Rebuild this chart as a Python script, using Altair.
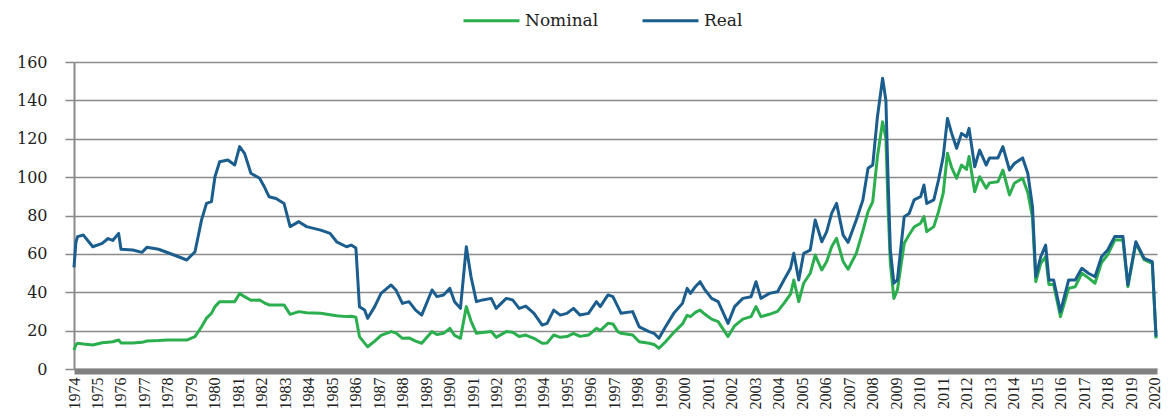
import altair as alt
import pandas as pd

# Monthly-ish crude oil price readings (year fraction), USD per barrel
dates = [
    1974.00, 1974.08, 1974.15, 1974.40, 1974.80, 1975.20, 1975.45, 1975.65, 1975.90, 1976.00,
    1976.50, 1976.90, 1977.10, 1977.60, 1978.00, 1978.45, 1978.80, 1979.15, 1979.43, 1979.64,
    1979.85, 1980.00, 1980.20, 1980.55, 1980.84, 1981.05, 1981.26, 1981.53, 1981.90, 1982.10,
    1982.30, 1982.60, 1982.94, 1983.20, 1983.57, 1983.90, 1984.50, 1984.90, 1985.18, 1985.60,
    1985.80, 1986.00, 1986.15, 1986.37, 1986.50, 1986.80, 1987.07, 1987.50, 1987.70, 1987.98,
    1988.26, 1988.54, 1988.80, 1989.24, 1989.45, 1989.73, 1990.00, 1990.20, 1990.45, 1990.70,
    1990.90, 1991.13, 1991.40, 1991.76, 1991.97, 1992.40, 1992.67, 1992.95, 1993.23, 1993.58,
    1993.93, 1994.14, 1994.42, 1994.70, 1994.98, 1995.26, 1995.54, 1995.90, 1996.24, 1996.40,
    1996.73, 1996.94, 1997.15, 1997.29, 1997.78, 1998.06, 1998.48, 1998.69, 1998.90, 1999.18,
    1999.53, 1999.90, 2000.10, 2000.24, 2000.45, 2000.65, 2000.86, 2001.14, 2001.42, 2001.84,
    2002.12, 2002.47, 2002.82, 2003.03, 2003.24, 2003.60, 2003.95, 2004.22, 2004.50, 2004.64,
    2004.85, 2005.06, 2005.34, 2005.55, 2005.83, 2006.04, 2006.25, 2006.46, 2006.74, 2006.95,
    2007.30, 2007.58, 2007.80, 2008.00, 2008.20, 2008.42, 2008.56, 2008.65, 2008.75, 2008.90,
    2009.05, 2009.34, 2009.55, 2009.76, 2010.04, 2010.18, 2010.30, 2010.60, 2010.80, 2011.00,
    2011.18, 2011.36, 2011.57, 2011.78, 2011.99, 2012.10, 2012.34, 2012.55, 2012.83, 2012.97,
    2013.33, 2013.54, 2013.82, 2014.03, 2014.38, 2014.60, 2014.80, 2014.94, 2015.15, 2015.36,
    2015.50, 2015.70, 2015.99, 2016.34, 2016.62, 2016.90, 2017.18, 2017.46, 2017.74, 2018.00,
    2018.30, 2018.65, 2018.86, 2019.20, 2019.55, 2019.90, 2020.06,
]

nominal = [
    9.9, 12.5, 13.4, 13.0, 12.5, 13.7, 14.0, 14.2, 15.1, 13.6,
    13.6, 13.9, 14.6, 14.8, 15.1, 15.1, 15.1, 16.9, 22.0, 26.5,
    29.0, 32.5, 35.1, 35.1, 35.1, 39.4, 37.7, 35.8, 36.0, 34.5,
    33.4, 33.4, 33.4, 28.5, 29.9, 29.3, 29.0, 28.3, 27.8, 27.3,
    27.5, 27.0, 16.9, 13.5, 11.6, 14.5, 17.5, 19.5, 18.8, 16.0,
    16.2, 14.5, 13.4, 19.5, 18.0, 18.6, 21.2, 17.5, 16.0, 32.5,
    25.0, 18.6, 19.0, 19.5, 16.5, 19.5, 19.2, 16.9, 17.7, 16.0,
    13.4, 13.6, 17.7, 16.5, 16.9, 18.6, 17.0, 17.7, 21.2, 20.0,
    23.8, 23.5, 19.5, 18.6, 17.7, 14.2, 13.4, 12.8, 10.8, 14.2,
    19.0, 23.5, 28.0, 27.3, 29.5, 30.7, 28.5, 26.0, 24.7, 16.9,
    22.5, 26.0, 27.3, 32.5, 27.3, 28.5, 30.0, 34.2, 39.0, 46.4,
    35.1, 44.7, 49.9, 59.4, 51.6, 56.0, 63.7, 68.1, 56.0, 52.0,
    60.3, 72.0, 82.0, 87.2, 110.7, 128.9, 120.0, 85.0, 55.0, 36.8,
    41.2, 65.5, 70.0, 74.0, 76.0, 79.4, 71.6, 74.2, 82.0, 91.6,
    112.4, 105.0, 99.4, 106.3, 104.0, 110.7, 92.4, 100.2, 94.2, 97.0,
    97.6, 103.7, 90.7, 96.8, 99.4, 92.0, 79.0, 45.5, 55.0, 58.5,
    44.0, 44.0, 27.3, 42.0, 42.9, 49.9, 47.5, 44.7, 55.5, 59.5,
    67.2, 67.2, 42.9, 65.5, 57.0, 55.0, 16.0,
]

real = [
    53.0, 66.0, 69.0, 69.8, 63.7, 65.5, 68.0, 67.0, 70.7, 62.4,
    62.0, 60.8, 63.4, 62.4, 60.6, 58.5, 56.8, 61.1, 77.7, 86.3,
    87.2, 100.2, 108.0, 108.9, 106.3, 115.9, 112.4, 102.0, 99.4, 95.0,
    89.8, 88.9, 86.3, 74.2, 76.8, 74.2, 72.4, 70.7, 66.3, 63.7,
    64.6, 63.0, 32.5, 30.7, 26.4, 32.5, 39.4, 43.8, 41.2, 34.2,
    35.1, 30.7, 28.1, 41.2, 37.7, 38.6, 42.0, 35.1, 31.6, 63.7,
    48.1, 35.1, 36.0, 36.8, 31.6, 36.8, 36.0, 31.6, 32.8, 29.0,
    22.9, 23.8, 30.7, 28.1, 29.0, 31.6, 28.1, 29.0, 35.1, 32.5,
    38.6, 37.7, 32.5, 29.0, 29.9, 22.0, 19.5, 18.6, 16.0, 22.0,
    29.0, 34.2, 42.0, 39.4, 42.9, 45.5, 41.2, 36.8, 35.1, 23.8,
    32.5, 36.8, 37.7, 45.5, 36.8, 39.4, 40.3, 46.4, 52.5, 60.3,
    46.4, 60.3, 62.0, 77.7, 66.3, 71.6, 81.1, 86.3, 69.8, 66.0,
    77.7, 88.1, 104.6, 106.3, 131.5, 151.5, 140.0, 100.0, 62.0, 44.7,
    46.4, 79.4, 81.0, 88.1, 89.8, 95.9, 86.3, 88.1, 98.5, 110.7,
    130.6, 122.8, 115.0, 122.8, 121.0, 125.4, 105.4, 114.1, 106.3, 110.0,
    110.0, 115.9, 103.7, 107.1, 110.0, 102.0, 84.6, 48.1, 58.5, 64.6,
    46.4, 46.4, 29.9, 46.4, 46.4, 52.5, 49.9, 48.1, 58.5, 62.0,
    69.0, 69.0, 43.8, 66.3, 57.7, 55.9, 16.9,
]

years = list(range(1974, 2021))
y_ticks = list(range(0, 161, 20))
series_names = ["Nominal", "Real"]
series_colors = ["#2BAE4E", "#1B5E8E"]

rows = []
for name, vals in zip(series_names, [nominal, real]):
    for d, v in zip(dates, vals):
        rows.append({"date": d, "series": name, "value": v})
df = pd.DataFrame(rows)

FONT = "DejaVu Serif"
XFONT = "Liberation Serif"

chart = alt.Chart(df).mark_line(strokeWidth=3, strokeJoin="round").encode(
    x=alt.X(
        "date:Q",
        scale=alt.Scale(domain=[1974, 2020.1], nice=False, zero=False),
        axis=alt.Axis(
            values=years, format="d", labelAngle=-90, labelOverlap=False,
            ticks=False, tickSize=0, grid=False, domainColor="#808080",
            domainWidth=6, offset=2, labelPadding=6, labelFont=XFONT,
            labelFontSize=16, labelColor="#222222", title=None, labelFlush=False,
        ),
    ),
    y=alt.Y(
        "value:Q",
        scale=alt.Scale(domain=[0, 160], nice=False),
        axis=alt.Axis(
            values=y_ticks, grid=True, gridColor="#8a8a8a", gridWidth=1.5,
            tickSize=9, tickColor="#8a8a8a", tickWidth=1.5,
            domainColor="#8a8a8a", domainWidth=2, labelPadding=18,
            labelFont=FONT, labelFontSize=16, labelColor="#222222", title=None,
        ),
    ),
    color=alt.Color(
        "series:N",
        scale=alt.Scale(domain=series_names, range=series_colors),
        legend=alt.Legend(
            orient="none", legendX=388, legendY=-71, direction="horizontal",
            title=None, symbolType="stroke", symbolSize=3136, symbolStrokeWidth=3,
            labelFont=FONT, labelFontSize=17, labelColor="#222222",
            columnPadding=37, labelOffset=4,
        ),
    ),
).properties(
    width=1083,
    height=307,
    autosize=alt.AutoSizeParams(type="none"),
    padding={"left": 66, "top": 54, "right": 6, "bottom": 41},
).configure_view(stroke=None)

chart.save("out.html", embed_options={"renderer": "svg", "actions": False})
